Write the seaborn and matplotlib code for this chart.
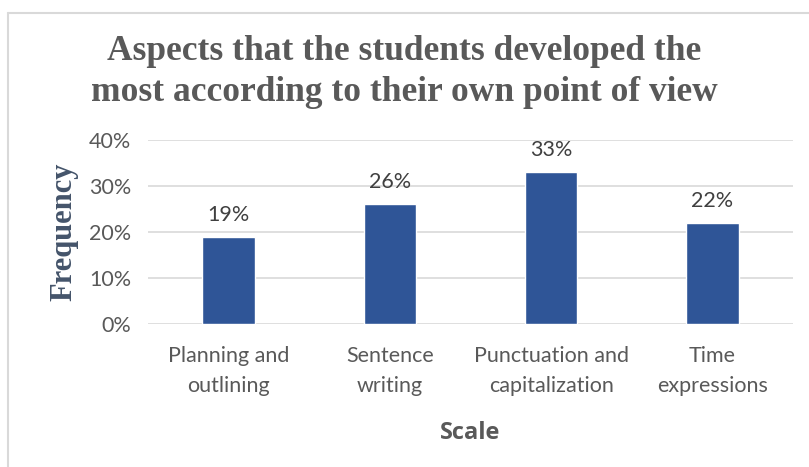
import matplotlib
matplotlib.use("Agg")
import matplotlib.pyplot as plt
import seaborn as sns
import pandas as pd
from matplotlib.lines import Line2D
from matplotlib.ticker import PercentFormatter

categories = ["Planning and\noutlining", "Sentence\nwriting", "Punctuation and\ncapitalization", "Time\nexpressions"]
values = [19, 26, 33, 22]
yticks = [0, 10, 20, 30, 40]

df = pd.DataFrame({"cat": categories, "val": values})

sns.set_theme(style="white")
plt.rcParams["font.family"] = ["Lato", "DejaVu Sans"]

W, H = 809, 467
fig = plt.figure(figsize=(W / 100, H / 100), dpi=100)
ax = fig.add_axes([148 / W, 1 - 324 / H, (793 - 148) / W, (324 - 140) / H])

sns.barplot(data=df, x="cat", y="val", color="#2F5597", saturation=1, width=0.325, ax=ax, zorder=3)

ax.set_ylim(0, 40)
ax.set_xlim(-0.5, 3.5)
ax.set_yticks(yticks)
ax.yaxis.set_major_formatter(PercentFormatter(decimals=0))
ax.grid(axis="y", color="#D9D9D9", linewidth=1.2, zorder=0)
for s in ax.spines.values():
    s.set_visible(False)
ax.tick_params(axis="both", length=0, labelsize=15.5, labelcolor="#595959")
ax.tick_params(axis="y", pad=12)
ax.tick_params(axis="x", pad=16)
for t in ax.get_xticklabels():
    t.set_linespacing(1.6)

for p, v in zip(ax.patches, values):
    ax.text(p.get_x() + p.get_width() / 2, v + 2.6, f"{v}%", ha="center", va="bottom",
            fontsize=15.5, color="#404040")

ax.set_xlabel("Scale", fontsize=17, fontweight="bold", color="#595959", labelpad=18,
              family=["Open Sans", "DejaVu Sans"])
ax.set_ylabel("Frequency", fontsize=22, fontweight="bold", color="#44546A",
              family=["Liberation Serif"], labelpad=8)

fig.text(0.5, 1 - 72 / H, "Aspects that the students developed the\nmost according to their own point of view",
         ha="center", va="center", fontsize=25.5, fontweight="bold", color="#595959",
         family=["Liberation Serif"], linespacing=1.32)

fig.add_artist(Line2D([8 / W, 8 / W], [0, 1 - 13 / H], color="#D9D9D9", linewidth=1.5))
fig.add_artist(Line2D([8 / W, 1], [1 - 13 / H, 1 - 13 / H], color="#D9D9D9", linewidth=1.5))

fig.savefig("out.png", dpi=100, facecolor="white")
